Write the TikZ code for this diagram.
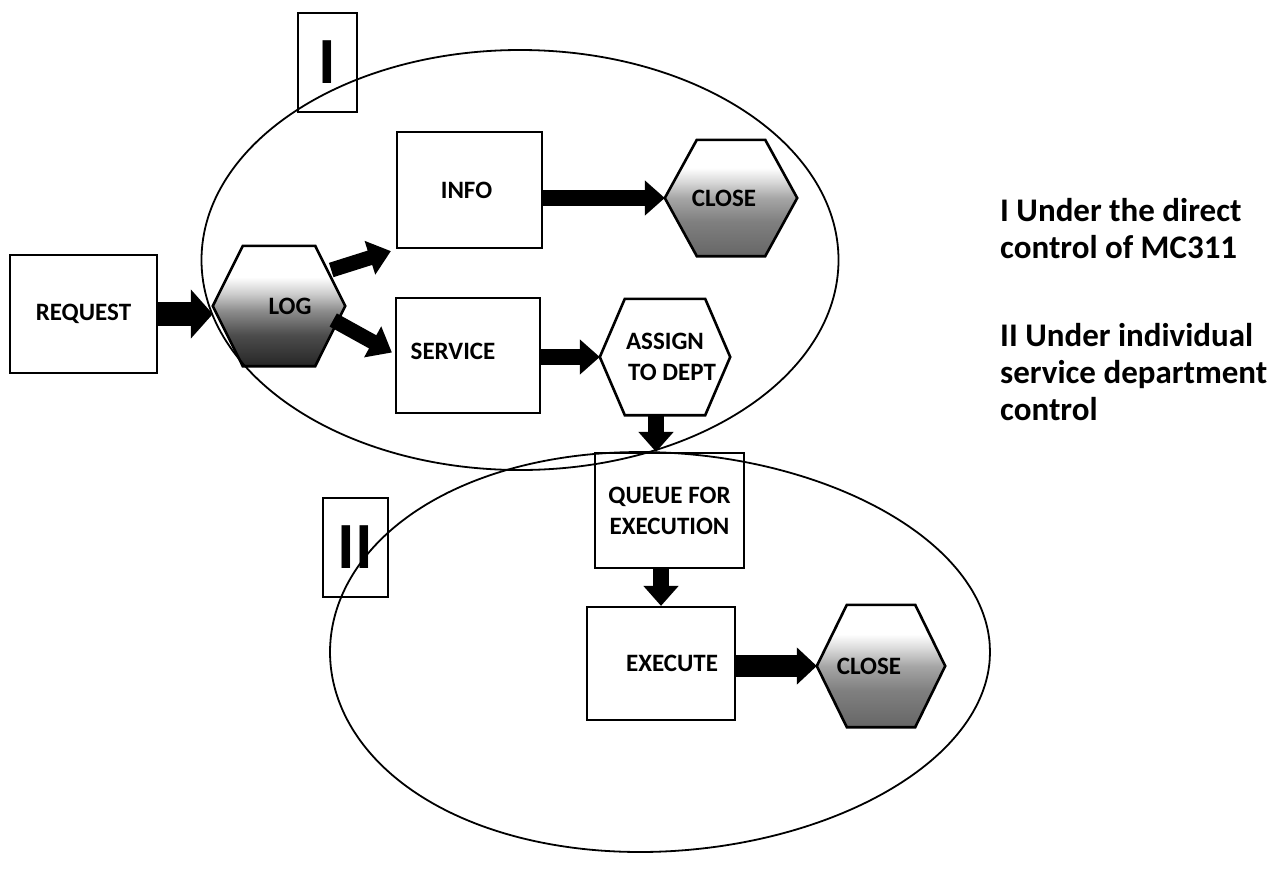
\documentclass[tikz,border=0pt]{standalone}
\usepackage{fontspec}
\setmainfont{Carlito}
\usetikzlibrary{arrows.meta,calc}
\pgfdeclarelayer{bg}
\pgfsetlayers{bg,main}
\pgfdeclareverticalshading{darkhex}{100bp}{color(0bp)=(black!85); color(25bp)=(black!85); color(38bp)=(black!70); color(48bp)=(black!45); color(55bp)=(black!20); color(62bp)=(white); color(100bp)=(white)}
\pgfdeclareverticalshading{midhex}{100bp}{color(0bp)=(black!60); color(25bp)=(black!60); color(40bp)=(black!50); color(50bp)=(black!35); color(57bp)=(black!15); color(63bp)=(white); color(100bp)=(white)}
\newcommand\hexat[3]{%
\begin{pgfonlayer}{bg}
\path[#3] (#1.west) -- ($(#1.north west)+(#2,0)$) -- ($(#1.north east)+(-#2,0)$) -- (#1.east) -- ($(#1.south east)+(-#2,0)$) -- ($(#1.south west)+(#2,0)$) -- cycle;
\end{pgfonlayer}}
\begin{document}
\begin{tikzpicture}[x=1pt,y=-1pt,
  lbl/.style={font=\bfseries\fontsize{25}{31}\selectfont},
  box/.style={lbl, draw, line width=2.2pt, inner sep=0pt, align=center},
  hexn/.style={lbl, inner sep=0pt, align=center},
  hexline/.style={draw, line width=2.6pt, line join=miter},
  blk/.style={line width=16pt, -{Triangle[width=34pt,length=20pt]}},
  roman/.style={draw, line width=1.3pt, inner sep=0pt, font=\bfseries\fontsize{66}{70}\selectfont},
  oval/.style={line width=1.8pt},
  note/.style={anchor=base west, inner sep=0pt, font=\bfseries\fontsize{33}{38}\selectfont}]
\begin{pgfonlayer}{bg}
\fill[white] (0,0) rectangle (1281,871);
\end{pgfonlayer}
\useasboundingbox (0,0) rectangle (1281,871);

% boxes
\node[box, minimum width=147pt, minimum height=118pt] (request) at (83.5,314) {REQUEST};
\node[box, minimum width=145pt, minimum height=116pt] (info) at (469.5,190) {INFO\hspace{6pt}};
\node[box, minimum width=144pt, minimum height=115pt] (service) at (468,355.5) {\raisebox{9pt}{SERVICE}\hspace{30pt}};
\node[box, minimum width=149pt, minimum height=115pt] (queue) at (669.5,510.5) {QUEUE FOR\\EXECUTION};
\node[box, minimum width=148pt, minimum height=113pt] (execute) at (661,663.5) {\hspace{22pt}EXECUTE};

% hexagons
\node[hexn, minimum width=132pt, minimum height=120pt] (log) at (279,306) {\hspace{22pt}LOG};
\hexat{log}{30}{hexline, shading=darkhex}
\node[hexn, minimum width=132pt, minimum height=116pt] (close1) at (731,198) {CLOSE\hspace{14pt}};
\hexat{close1}{32}{hexline, shading=midhex}
\node[hexn, minimum width=130pt, minimum height=116pt] (assign) at (665,357) {ASSIGN\\\hspace{14pt}TO DEPT};
\hexat{assign}{25}{hexline, fill=white}
\node[hexn, minimum width=128pt, minimum height=122pt] (close2) at (881,666) {CLOSE\hspace{24pt}};
\hexat{close2}{30}{hexline, shading=midhex}

% connectors
\draw[blk, line width=24pt, -{Triangle[width=48pt,length=22pt]}] (request.east) -- (request.east -| log.west);
\draw[blk, line width=15pt, -{Triangle[width=34pt,length=22pt]}] ($(log.east)+(-14,-36)$) -- ($(info.south west)+(-5,2)$);
\draw[blk, line width=15pt, -{Triangle[width=34pt,length=22pt]}] ($(log.east)+(-12,14)$) -- ($(service.west)+(-3,-3)$);
\draw[blk] (info.east |- close1.west) -- (close1.west);
\draw[blk] (service.east |- assign.west) -- (assign.west);
\coordinate (adown) at ($(assign.south)+(-9,0)$);
\draw[blk] (adown) -- (adown |- queue.north);
\draw[blk] (queue.south -| execute.north) -- (execute.north);
\draw[blk, line width=22pt, -{Triangle[width=36pt,length=20pt]}] (execute.east |- close2.west) -- (close2.west);

% region labels
\node[roman, minimum width=59pt, minimum height=99pt] (r1) at (327.5,62.5) {I\hspace{15pt}};
\node[roman, minimum width=65pt, minimum height=99pt] (r2) at (355.5,547.5) {II};

% ovals
\draw[oval] (520,260) ellipse [x radius=318.5, y radius=210];
\draw[oval] plot[domain=0:360, samples=120, smooth cycle, variable=\t]
  ({640 + (330 + 20*cos(\t))*cos(\t)}, {652 + 200*sin(\t)});

% notes
\node[note] (n1) at (1000,221) {I Under the direct};
\node[note] (n2) at (1000,258) {control of MC311};
\node[note] (n3) at (1000,346) {II Under individual};
\node[note] (n4) at (1000,383) {service department};
\node[note] (n5) at (1000,420) {control};
\end{tikzpicture}
\end{document}
